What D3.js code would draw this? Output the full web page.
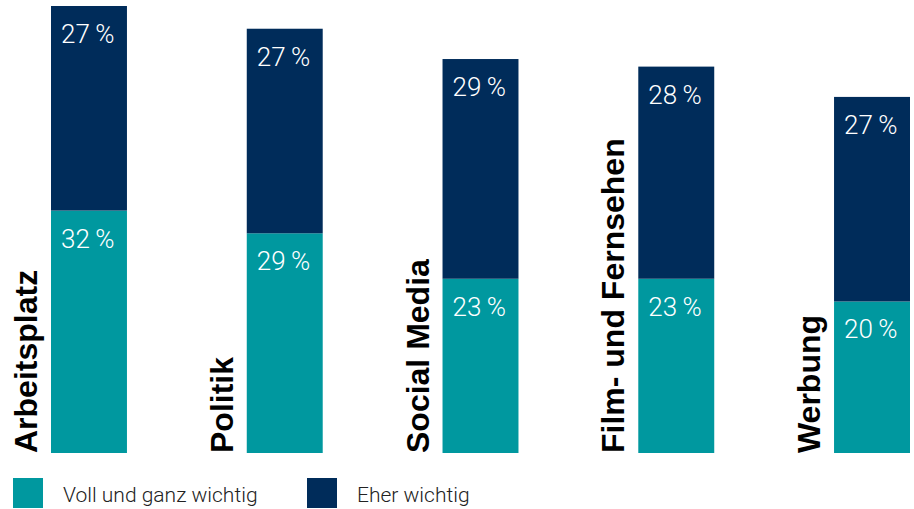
<!doctype html>
<html lang='de'>
<head>
    <meta charset='UTF-8'>
    <title>Wichtigkeit nach Bereich</title>
    <script src='https://cdn.jsdelivr.net/npm/d3@7/dist/d3.min.js'></script>
    <style>
        html, body { margin: 0; padding: 0; background: #fff; }
    </style>
</head>
<body>
<div id='chart'></div>
<script>
    // data
    const categories = ['Arbeitsplatz', 'Politik', 'Social Media', 'Film- und Fernsehen', 'Werbung'];
    const vollUndGanz = [32, 29, 23, 23, 20];
    const eherWichtig = [27, 27, 29, 28, 27];
    const seriesNames = ['Voll und ganz wichtig', 'Eher wichtig'];
    const seriesColors = ['#00989f', '#002c5a'];

    const W = 914, H = 509;
    const svg = d3.select('#chart').append('svg').attr('width', W).attr('height', H);

    const xScale = d3.scaleBand().domain(categories).range([51, 910]).paddingInner(0.612).paddingOuter(0);
    const yScale = d3.scaleLinear().domain([0, 59]).range([453, 6]);

    const rows = categories.map(function (c, i) {
        return { cat: c, voll: vollUndGanz[i], eher: eherWichtig[i] };
    });
    const stacked = d3.stack().keys(['voll', 'eher'])(rows);

    const labelFont = "'Roboto', 'Liberation Sans', sans-serif";

    stacked.forEach(function (layer, li) {
        const g = svg.append('g');
        g.selectAll('rect').data(layer).enter().append('rect')
            .attr('x', d => xScale(d.data.cat))
            .attr('y', d => yScale(d[1]))
            .attr('width', xScale.bandwidth())
            .attr('height', d => yScale(d[0]) - yScale(d[1]))
            .attr('fill', seriesColors[li]);
        g.selectAll('text').data(layer).enter().append('text')
            .attr('x', d => xScale(d.data.cat) + 10)
            .attr('y', d => yScale(d[1]) + 37)
            .attr('fill', '#fff')
            .style('font-family', labelFont)
            .style('font-weight', 300)
            .style('font-size', '26px')
            .text(d => (d[1] - d[0]) + '\u2009%');
    });

    // rotated category labels left of each bar
    svg.append('g').selectAll('text').data(categories).enter().append('text')
        .attr('transform', d => 'translate(' + (xScale(d) - 14) + ',453) rotate(-90)')
        .attr('text-anchor', 'start')
        .attr('fill', '#000')
        .style('font-family', "'Liberation Sans', Arial, sans-serif")
        .style('font-weight', 'bold')
        .style('font-size', '32px')
        .text(d => d);

    // legend
    const legendX = [13, 307];
    const legend = svg.append('g').selectAll('g').data(seriesNames).enter().append('g')
        .attr('transform', (d, i) => 'translate(' + legendX[i] + ',478)');
    legend.append('rect').attr('width', 30).attr('height', 30).attr('fill', (d, i) => seriesColors[i]);
    legend.append('text')
        .attr('x', 50).attr('y', 24)
        .attr('fill', '#222')
        .style('font-family', labelFont)
        .style('font-weight', 300)
        .style('font-size', '21px')
        .text(d => d);
</script>
</body>
</html>
